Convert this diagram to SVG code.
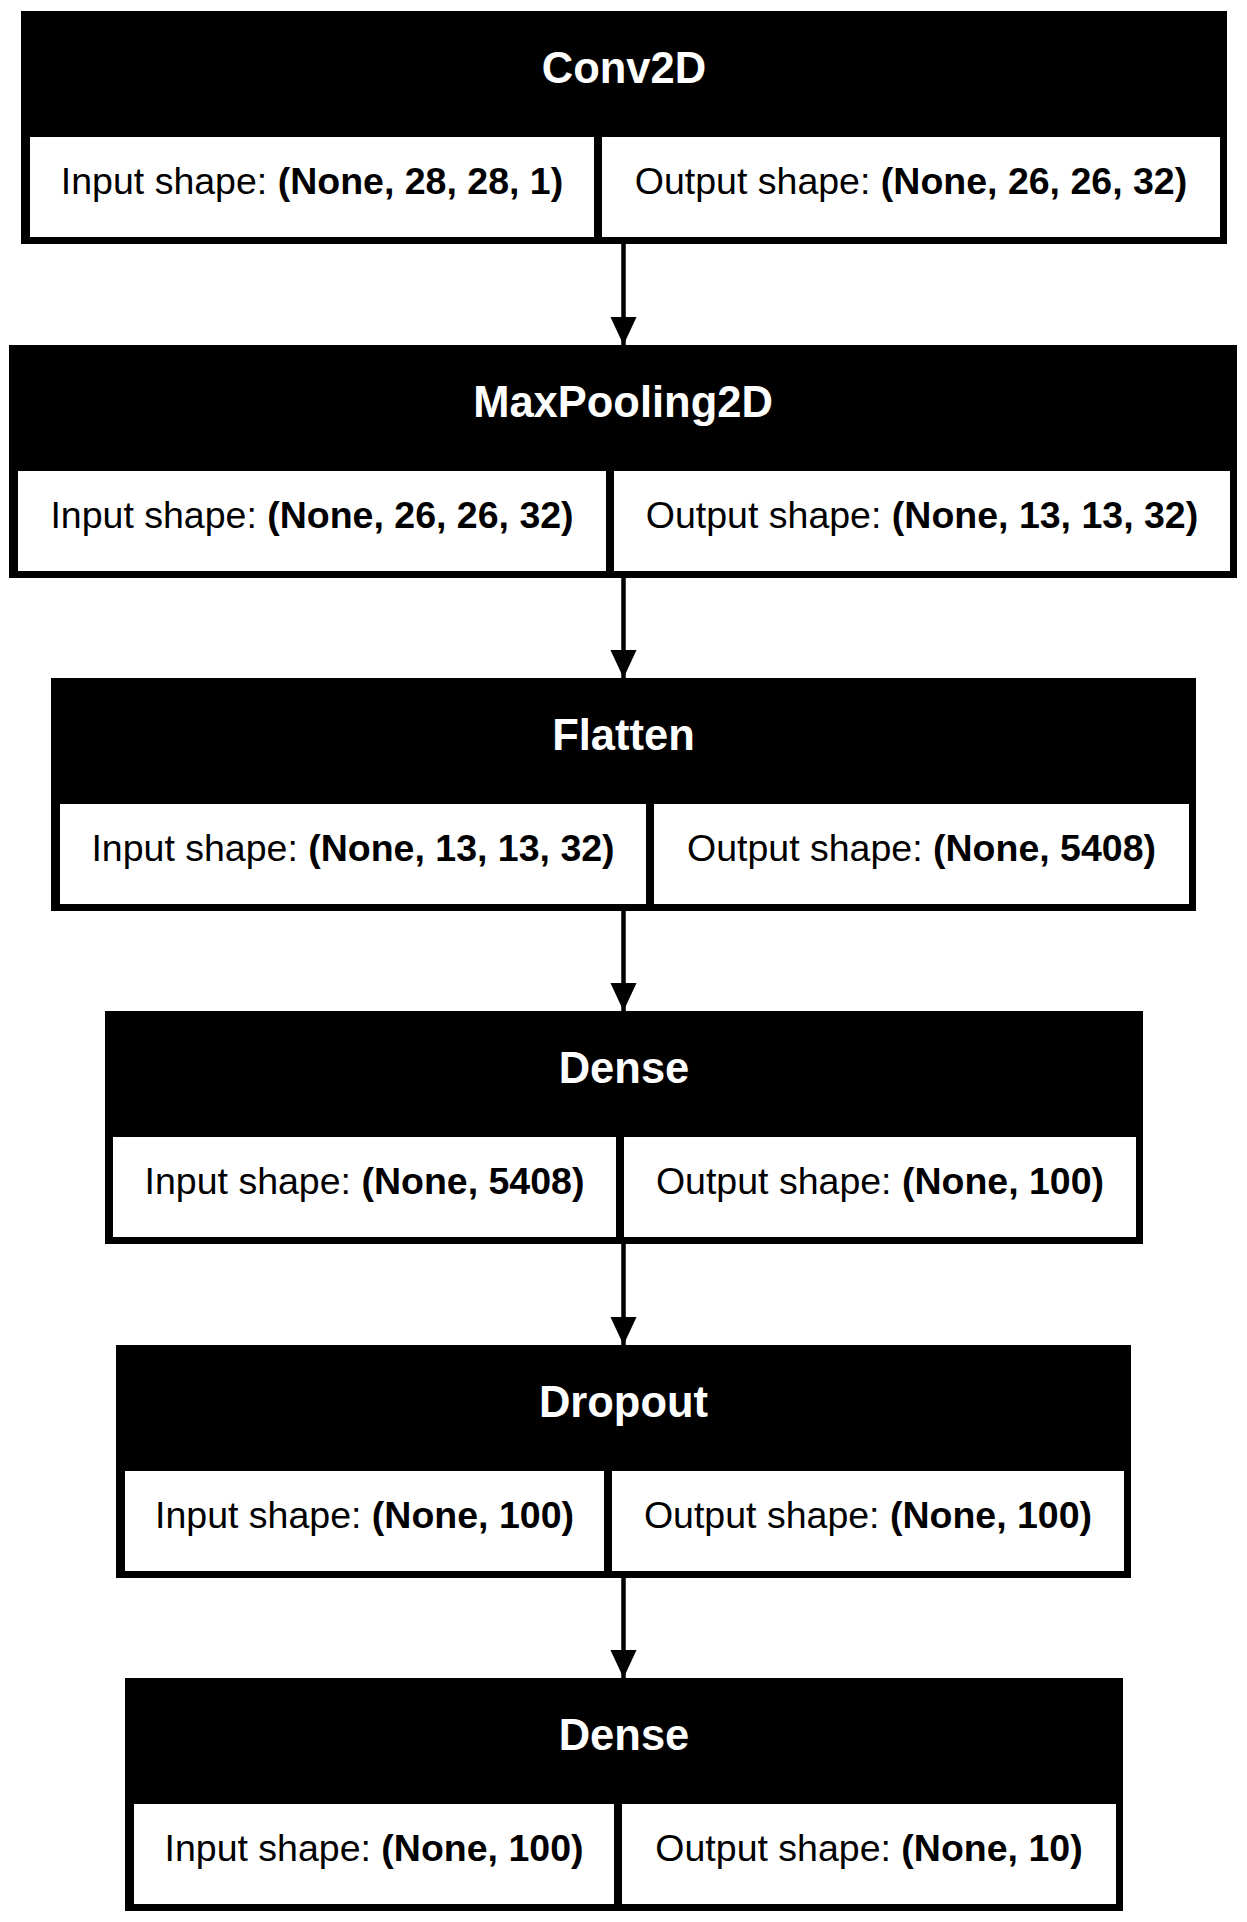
<svg xmlns="http://www.w3.org/2000/svg" width="1247" height="1922" viewBox="0 0 1247 1922">
<style>
.box{fill:#000}
.cell{fill:#fff}
.hd{font-family:"Liberation Sans",Arial,sans-serif;font-weight:bold;font-size:43.5px;fill:#fff;text-anchor:middle}
.tx{font-family:"Liberation Sans",Arial,sans-serif;font-size:37.5px;fill:#000;text-anchor:middle}
.b{font-weight:bold}
.edge{stroke:#000;stroke-width:4.5;fill:none}
</style>
<defs>
<marker id="ah" markerUnits="userSpaceOnUse" markerWidth="28" markerHeight="30" refX="29" refY="13.5" orient="auto" viewBox="0 0 29 27">
<path d="M0,0 L29,13.5 L0,27 Z" fill="#000"/>
</marker>
</defs>
<rect width="1247" height="1922" fill="#fff"/>
<g id="edges">
<line class="edge" x1="623.5" y1="244" x2="623.5" y2="345" marker-end="url(#ah)"/>
<line class="edge" x1="623.5" y1="578" x2="623.5" y2="678" marker-end="url(#ah)"/>
<line class="edge" x1="623.5" y1="911" x2="623.5" y2="1011" marker-end="url(#ah)"/>
<line class="edge" x1="623.5" y1="1244" x2="623.5" y2="1345" marker-end="url(#ah)"/>
<line class="edge" x1="623.5" y1="1578" x2="623.5" y2="1678" marker-end="url(#ah)"/>
</g>
<g id="conv2d">
<rect class="box" x="21" y="11" width="1206" height="233"/>
<text class="hd" x="624" y="82.5">Conv2D</text>
<rect class="cell" x="30" y="137" width="564" height="100"/>
<rect class="cell" x="602" y="137" width="618" height="100"/>
<text class="tx" x="312" y="194">Input shape: <tspan class="b">(None, 28, 28, 1)</tspan></text>
<text class="tx" x="911" y="194">Output shape: <tspan class="b">(None, 26, 26, 32)</tspan></text>
</g>
<g id="maxpooling2d">
<rect class="box" x="9" y="345" width="1228" height="233"/>
<text class="hd" x="623" y="416.5">MaxPooling2D</text>
<rect class="cell" x="18" y="471" width="588" height="100"/>
<rect class="cell" x="614" y="471" width="616" height="100"/>
<text class="tx" x="312" y="528">Input shape: <tspan class="b">(None, 26, 26, 32)</tspan></text>
<text class="tx" x="922" y="528">Output shape: <tspan class="b">(None, 13, 13, 32)</tspan></text>
</g>
<g id="flatten">
<rect class="box" x="51" y="678" width="1145" height="233"/>
<text class="hd" x="623.5" y="749.5">Flatten</text>
<rect class="cell" x="60" y="804" width="586" height="100"/>
<rect class="cell" x="654" y="804" width="535" height="100"/>
<text class="tx" x="353" y="861">Input shape: <tspan class="b">(None, 13, 13, 32)</tspan></text>
<text class="tx" x="921.5" y="861">Output shape: <tspan class="b">(None, 5408)</tspan></text>
</g>
<g id="dense">
<rect class="box" x="105" y="1011" width="1038" height="233"/>
<text class="hd" x="624" y="1082.5">Dense</text>
<rect class="cell" x="113" y="1137" width="503" height="100"/>
<rect class="cell" x="624" y="1137" width="512" height="100"/>
<text class="tx" x="364.5" y="1194">Input shape: <tspan class="b">(None, 5408)</tspan></text>
<text class="tx" x="880" y="1194">Output shape: <tspan class="b">(None, 100)</tspan></text>
</g>
<g id="dropout">
<rect class="box" x="116" y="1345" width="1015" height="233"/>
<text class="hd" x="623.5" y="1416.5">Dropout</text>
<rect class="cell" x="125" y="1471" width="479" height="100"/>
<rect class="cell" x="612" y="1471" width="512" height="100"/>
<text class="tx" x="364.5" y="1528">Input shape: <tspan class="b">(None, 100)</tspan></text>
<text class="tx" x="868" y="1528">Output shape: <tspan class="b">(None, 100)</tspan></text>
</g>
<g id="dense_1">
<rect class="box" x="125" y="1678" width="998" height="233"/>
<text class="hd" x="624" y="1749.5">Dense</text>
<rect class="cell" x="134" y="1804" width="480" height="100"/>
<rect class="cell" x="622" y="1804" width="494" height="100"/>
<text class="tx" x="374" y="1861">Input shape: <tspan class="b">(None, 100)</tspan></text>
<text class="tx" x="869" y="1861">Output shape: <tspan class="b">(None, 10)</tspan></text>
</g>
</svg>
